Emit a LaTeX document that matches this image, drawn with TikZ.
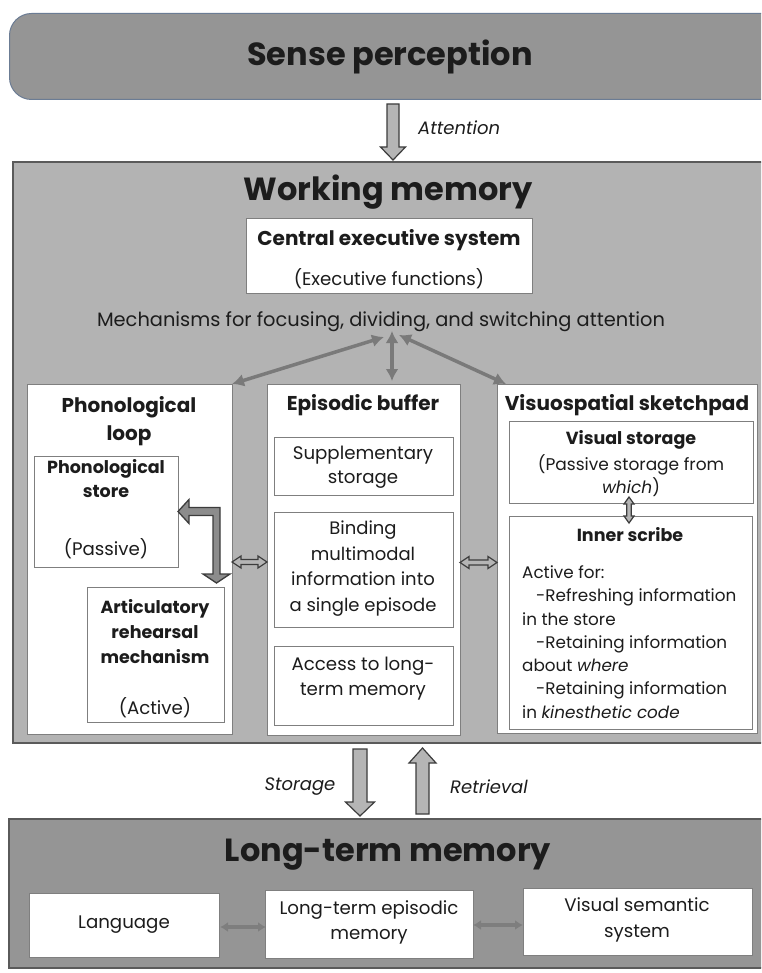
\documentclass[tikz,border=0pt]{standalone}
\usepackage{fontspec}
\setmainfont{Poppins}
\usetikzlibrary{arrows.meta}
\definecolor{spfill}{HTML}{959595}
\definecolor{spdraw}{HTML}{6B7C94}
\definecolor{wmfill}{HTML}{B3B3B3}
\definecolor{frame}{HTML}{5A5A5A}
\definecolor{boxline}{HTML}{7F7F7F}
\definecolor{linkgray}{HTML}{7A7A7A}
\definecolor{ltmgray}{HTML}{7E7E7E}
\definecolor{arrfill}{HTML}{B5B5B5}
\definecolor{arrline}{HTML}{3C3C3C}
\definecolor{elbowfill}{HTML}{8C8C8C}
\definecolor{txt}{HTML}{1C1C1C}

% block arrow: #1 start coord, #2 tip coord, #3 half shaft, #4 half head, #5 signed offset tip->head base
\newcommand\BlockArr[5]{\draw[blockarr] ([shift={(-#3,0)}]#1) -- ([shift={(#3,0)}]#1) -- ([shift={(#3,#5)}]#2) -- ([shift={(#4,#5)}]#2) -- (#2) -- ([shift={(-#4,#5)}]#2) -- ([shift={(-#3,#5)}]#2) -- cycle;}
% horizontal hollow double arrow from #1 (left tip) to #2 (right tip)
\newcommand\HDArr[2]{\draw[dblarr] (#1) -- ([shift={(9,-6)}]#1) -- ([shift={(9,-2.5)}]#1) -- ([shift={(-9,-2.5)}]#2) -- ([shift={(-9,-6)}]#2) -- (#2) -- ([shift={(-9,6)}]#2) -- ([shift={(-9,2.5)}]#2) -- ([shift={(9,2.5)}]#1) -- ([shift={(9,6)}]#1) -- cycle;}
% vertical hollow double arrow from #1 (top tip) to #2 (bottom tip)
\newcommand\VDArr[2]{\draw[dblarr] (#1) -- ([shift={(-5,7)}]#1) -- ([shift={(-2.2,7)}]#1) -- ([shift={(-2.2,-7)}]#2) -- ([shift={(-5,-7)}]#2) -- (#2) -- ([shift={(5,-7)}]#2) -- ([shift={(2.2,-7)}]#2) -- ([shift={(2.2,7)}]#1) -- ([shift={(5,7)}]#1) -- cycle;}

\begin{document}
\begin{tikzpicture}[x=1pt,y=-1pt,
  wbox/.style={draw=boxline, fill=white, line width=0.8pt, anchor=north west, inner sep=0pt, outer sep=0pt},
  bigbox/.style={draw=frame, line width=1.3pt, anchor=north west, inner sep=0pt, outer sep=0pt},
  bigtitle/.style={font=\fontsize{32}{38}\selectfont\bfseries, text=txt, inner sep=0pt},
  subtitle/.style={font=\fontsize{20}{#1}\selectfont\bfseries, align=center, text=txt, inner sep=0pt},
  subtitle/.default=28,
  smalltitle/.style={font=\fontsize{17.5}{#1}\selectfont\bfseries, align=center, text=txt, inner sep=0pt},
  smalltitle/.default=25,
  body/.style={font=\fontsize{18.2}{#1}\selectfont, align=center, text=txt, inner sep=0pt},
  body/.default=25,
  note/.style={font=\fontsize{16.8}{23.3}\selectfont, align=left, text=txt, inner sep=0pt},
  lab/.style={font=\fontsize{18}{20}\selectfont\itshape, text=txt, inner sep=0pt},
  link/.style={draw=linkgray, line width=3.5pt, {Latex[length=12pt,width=13pt]}-{Latex[length=12pt,width=13pt]}},
  ltmlink/.style={draw=ltmgray, line width=4pt, {Latex[length=8pt,width=10pt]}-{Latex[length=8pt,width=10pt]}},
  blockarr/.style={fill=arrfill, draw=arrline, line width=1.2pt, line join=miter},
  dblarr/.style={fill=arrfill, draw=arrline, line width=1.2pt, line join=miter},
  elbow/.style={fill=elbowfill, draw=arrline, line width=1.3pt, line join=miter}
]
\clip (0,0) rectangle (761,973);
\fill[white] (0,0) rectangle (761,973);

% ---------- Sense perception ----------
\node[draw=spdraw, fill=spfill, line width=1pt, rounded corners=22pt, anchor=north west, inner sep=0pt,
      minimum width=800pt, minimum height=86pt] (sense) at (9,13) {};
\node[bigtitle] (tSense) at (390,57) {Sense perception};

% ---------- Working memory ----------
\node[bigbox, fill=wmfill, minimum width=800pt, minimum height=581pt] (wm) at (13,162) {};
\node[bigtitle] (tWM) at (388,192) {Working memory};

% Attention arrow
\coordinate (attS) at (393,104);
\coordinate (attE) at ([shift={(0,-2)}]attS |- wm.north);
\BlockArr{attS}{attE}{6}{12.5}{-13}
\node[lab, anchor=west] (tAtt) at (418,128) {Attention};

% Central executive
\node[wbox, minimum width=286pt, minimum height=75pt] (ces) at (246,218) {};
\node[subtitle] (tCES) at (389,240) {Central executive system};
\node[body] (tEF) at (389,279) {(Executive functions)};
\node[body, font=\fontsize{19.4}{24}\selectfont] (tMech) at (381,322) {Mechanisms for focusing, dividing, and switching attention};

% Three component boxes
\node[wbox, minimum width=205pt, minimum height=350pt] (phon) at (27,384) {};
\node[wbox, minimum width=193pt, minimum height=351pt] (epi) at (267,384) {};
\node[wbox, minimum width=260pt, minimum height=349pt] (visuo) at (497,384) {};

% links from the executive mechanisms
\coordinate (hubL) at (384,337);
\coordinate (hubM) at (392,331);
\coordinate (hubR) at (399,335);
\draw[link] (hubL) -- (phon.north east);
\draw[link] (hubM) -- ([shift={(0,-3)}]hubM |- epi.north);
\draw[link] (hubR) -- ([shift={(9,0)}]visuo.north west);

% Phonological loop
\node[subtitle] (tPL) at (129,421) {Phonological\\loop};
\node[wbox, minimum width=144pt, minimum height=111pt] (pstore) at (34,456) {};
\node[smalltitle=24] (tPS) at (106,479) {Phonological\\store};
\node[body] (tPas) at (106,549) {(Passive)};
\node[wbox, minimum width=137pt, minimum height=135pt] (artic) at (87,587) {};
\node[smalltitle=25] (tArt) at (155,632) {Articulatory\\rehearsal\\mechanism};
\node[body] (tAct) at (155,708) {(Active)};

% elbow arrow between store and rehearsal
\coordinate (el1) at (pstore.east);
\coordinate (el2) at ([shift={(-7.5,-4)}]artic.north east);
\coordinate (elc) at (el2 |- el1);
\draw[elbow] (el1) -- ([shift={(11,-12)}]el1) -- ([shift={(11,-4)}]el1) -- ([shift={(3.5,-4)}]elc)
  -- ([shift={(3.5,-9)}]el2) -- ([shift={(13.5,-9)}]el2) -- (el2) -- ([shift={(-13.5,-9)}]el2)
  -- ([shift={(-3.5,-9)}]el2) -- ([shift={(-3.5,4)}]elc) -- ([shift={(11,4)}]el1) -- ([shift={(11,12)}]el1) -- cycle;

% Episodic buffer
\node[subtitle] (tEB) at (363,405) {Episodic buffer};
\node[wbox, minimum width=179pt, minimum height=58pt] (supp) at (274,437) {};
\node[body=24] (tSup) at (363,467) {Supplementary\\storage};
\node[wbox, minimum width=179pt, minimum height=115pt] (bind) at (274,512) {};
\node[body=25.6, font=\fontsize{18}{25.6}\selectfont] (tBind) at (363,568.5) {Binding\\multimodal\\information into\\a single episode};
\node[wbox, minimum width=179pt, minimum height=79pt] (access) at (274,646) {};
\node[body=25] (tAcc) at (363,678.5) {Access to long-\\term memory};

% Visuospatial sketchpad
\node[subtitle] (tVS) at (627,405) {Visuospatial sketchpad};
\node[wbox, minimum width=244pt, minimum height=82pt] (vstore) at (509,421) {};
\node[smalltitle] (tVst) at (631,440) {Visual storage};
\node[body=23, font=\fontsize{17}{23}\selectfont] (tVsd) at (631,475.5) {(Passive storage from\\\textit{which})};
\node[wbox, minimum width=243pt, minimum height=213pt] (scribe) at (509,516) {};
\node[smalltitle] (tIS) at (630,535) {Inner scribe};
\node[note, anchor=west] (tAF) at (522,642) {Active for:\\\hspace*{14pt}-Refreshing information\\in the store\\\hspace*{14pt}-Retaining information\\about \textit{where}\\\hspace*{14pt}-Retaining information\\in \textit{kinesthetic code}};

% hollow double arrows
\coordinate (pe1) at ([shift={(0,3)}]phon.east);
\coordinate (pe2) at (pe1 -| epi.west);
\HDArr{pe1}{pe2}
\coordinate (ev1) at ([shift={(0,3)}]epi.east);
\coordinate (ev2) at (ev1 -| visuo.west);
\HDArr{ev1}{ev2}
\coordinate (vs1) at ([shift={(-2,-6)}]vstore.south);
\coordinate (vs2) at ([shift={(0,7)}]vs1 |- scribe.north);
\VDArr{vs1}{vs2}

% ---------- Long-term memory ----------
\node[bigbox, fill=spfill, minimum width=800pt, minimum height=149pt] (ltm) at (9,819) {};
\node[bigtitle] (tLTM) at (388,855) {Long-term memory};

% Storage / Retrieval arrows
\coordinate (stS) at (360,749);
\coordinate (stE) at ([shift={(0,-3)}]stS |- ltm.north);
\BlockArr{stS}{stE}{7}{14.5}{-14}
\coordinate (reS) at (422.5,814);
\coordinate (reE) at (422.5,748);
\BlockArr{reS}{reE}{6.5}{13.5}{15}
\node[lab] (tSto) at (300,787) {Storage};
\node[lab] (tRet) at (489,787) {Retrieval};

\node[wbox, minimum width=190pt, minimum height=64pt] (lang) at (29,893) {};
\node[body] (tLang) at (lang.center) {Language};
\node[wbox, minimum width=208pt, minimum height=68pt] (ltem) at (265,890) {};
\node[body=25] (tLtem) at (369,922.5) {Long-term episodic\\memory};
\node[wbox, minimum width=229pt, minimum height=67pt] (vss) at (523,888) {};
\node[body=26] (tVss) at (637,920) {Visual semantic\\system};

\draw[ltmlink] ([shift={(1,2)}]lang.east) -- ([shift={(1,2)}]lang.east -| ltem.west);
\draw[ltmlink] ([shift={(0,1)}]ltem.east) -- ([shift={(0,1)}]ltem.east -| vss.west);
\end{tikzpicture}
\end{document}
